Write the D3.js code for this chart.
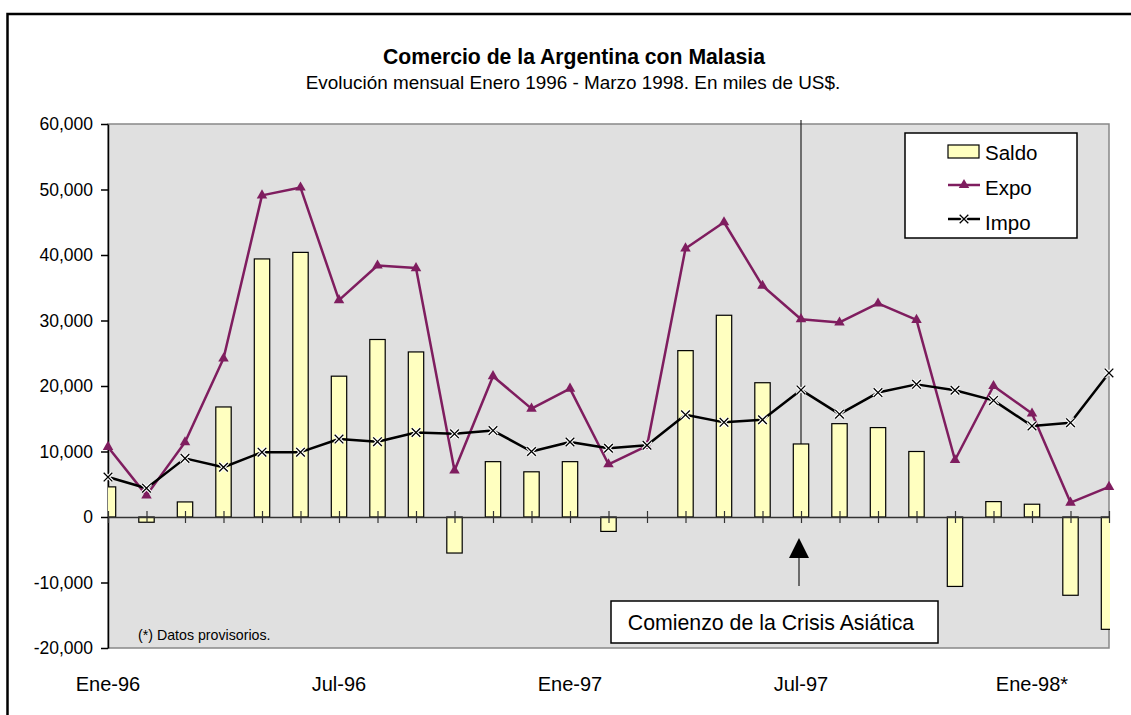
<!DOCTYPE html>
<html>
<head>
<meta charset="utf-8">
<script src="https://cdn.jsdelivr.net/npm/d3@7"></script>
<style>
  body { margin: 0; background: #fff; }
  svg text { font-family: "Liberation Sans", Arial, sans-serif; fill: #000; }
</style>
</head>
<body>
<div id="chart"></div>
<script>
// months Ene-96 .. Mar-98
const months = ["Ene-96","Feb-96","Mar-96","Abr-96","May-96","Jun-96","Jul-96","Ago-96","Sep-96","Oct-96","Nov-96","Dic-96",
  "Ene-97","Feb-97","Mar-97","Abr-97","May-97","Jun-97","Jul-97","Ago-97","Sep-97","Oct-97","Nov-97","Dic-97",
  "Ene-98","Feb-98","Mar-98"];
const tickLabels = ["Ene-96", "Jul-96", "Ene-97", "Jul-97", "Ene-98*"];

const saldo = [4600, -800, 2300, 16800, 39400, 40400, 21500, 27100, 25200, -5500, 8450, 6900,
  8450, -2200, 0, 25400, 30800, 20500, 11150, 14250, 13650, 10000, -10600, 2350,
  1950, -11950, -17150];
const expo = [10700, 3300, 11400, 24200, 49100, 50300, 33100, 38400, 38000, 7100, 21500, 16550,
  19600, 8050, 10850, 41000, 45000, 35300, 30200, 29700, 32600, 30100, 8700, 20000,
  15800, 2200, 4600];
const impo = [6100, 4400, 8950, 7600, 9900, 9900, 11900, 11500, 12900, 12700, 13200, 10000,
  11450, 10500, 10950, 15600, 14450, 14850, 19400, 15700, 19000, 20250, 19350, 17800,
  13900, 14400, 22000];
const yTicks = [-20000, -10000, 0, 10000, 20000, 30000, 40000, 50000, 60000];

(function () {
const W = 1131, H = 715;
const plotL = 108, plotR = 1109, plotT = 124, plotB = 648;
const expoColor = "#7f1d5f";

const svg = d3.select("#chart").append("svg")
  .attr("width", W).attr("height", H);

svg.append("rect").attr("width", W).attr("height", H).attr("fill", "#fff");

// outer frame (top and left only)
svg.append("path")
  .attr("d", `M7.5,${H} V14 H${W}`)
  .attr("fill", "none").attr("stroke", "#000").attr("stroke-width", 2.5);

svg.append("text").attr("x", 574).attr("y", 64)
  .attr("text-anchor", "middle").attr("font-size", 21.2).attr("font-weight", "bold")
  .text("Comercio de la Argentina con Malasia");
svg.append("text").attr("x", 573).attr("y", 89)
  .attr("text-anchor", "middle").attr("font-size", 18.9)
  .text("Evolución mensual Enero 1996 - Marzo 1998. En miles de US$.");

const x = d3.scalePoint().domain(months).range([plotL, plotR]);
const y = d3.scaleLinear().domain([-20000, 60000]).range([plotB, plotT]);
const step = x.step();
const barW = step * 0.4;
const fmt = d3.format(",");

// plot area
svg.append("rect")
  .attr("x", plotL).attr("y", plotT).attr("width", plotR - plotL).attr("height", plotB - plotT)
  .attr("fill", "#e0e0e0").attr("stroke", "#888").attr("stroke-width", 1.5);

svg.append("clipPath").attr("id", "plotclip").append("rect")
  .attr("x", plotL).attr("y", plotT - 2).attr("width", plotR - plotL + 1).attr("height", plotB - plotT + 4);

// crisis marker line at Jul-97
const crisisX = x("Jul-97");
svg.append("line")
  .attr("x1", crisisX).attr("x2", crisisX)
  .attr("y1", 120).attr("y2", y(saldo[months.indexOf("Jul-97")]))
  .attr("stroke", "#111").attr("stroke-width", 1.1);

// y axis
const yAxis = svg.append("g")
  .attr("transform", `translate(${plotL},0)`)
  .call(d3.axisLeft(y).tickValues(yTicks)
    .tickFormat(d => fmt(d).replace("\u2212", "-"))
    .tickSize(7).tickSizeOuter(0).tickPadding(8));
yAxis.select(".domain").attr("stroke", "#000").attr("stroke-width", 1.5);
yAxis.selectAll(".tick line").attr("stroke", "#000").attr("stroke-width", 1.5);
yAxis.selectAll("text").attr("font-size", 17.5).attr("font-family", "Liberation Sans, Arial, sans-serif");

// bars
svg.append("g").attr("clip-path", "url(#plotclip)")
  .selectAll("rect").data(saldo).join("rect")
  .attr("x", (d, i) => x(months[i]) - barW / 2)
  .attr("y", d => y(Math.max(0, d)))
  .attr("width", barW)
  .attr("height", d => Math.abs(y(d) - y(0)))
  .attr("fill", "#ffffc0")
  .attr("stroke", "#000").attr("stroke-width", 1.2);

// zero axis with crossing ticks
const zAxis = svg.append("g")
  .attr("transform", `translate(0,${y(0)})`)
  .call(d3.axisBottom(x).tickFormat("").tickSize(6).tickSizeOuter(0));
zAxis.select(".domain").attr("stroke", "#333").attr("stroke-width", 1.5);
zAxis.selectAll(".tick line").attr("y1", -6).attr("stroke", "#333").attr("stroke-width", 1.2);

// bottom category labels
svg.append("g").selectAll("text").data(tickLabels).join("text")
  .attr("x", (d, i) => x(months[i * 6]))
  .attr("y", 691)
  .attr("text-anchor", "middle").attr("font-size", 20)
  .text(d => d);

// Expo line
const line = d3.line().x((d, i) => x(months[i])).y(d => y(d));
svg.append("path").datum(expo)
  .attr("d", line).attr("fill", "none")
  .attr("stroke", expoColor).attr("stroke-width", 2.5).attr("stroke-linejoin", "round");
const tri = d3.symbol().type(d3.symbolTriangle).size(48);
svg.append("g").selectAll("path").data(expo).join("path")
  .attr("transform", (d, i) => `translate(${x(months[i])},${y(d)})`)
  .attr("d", tri).attr("fill", expoColor);

// Impo line
svg.append("path").datum(impo)
  .attr("d", line).attr("fill", "none")
  .attr("stroke", "#000").attr("stroke-width", 2.5).attr("stroke-linejoin", "round");
const cross = d3.symbol().type(d3.symbolX).size(50);
const impoMarks = svg.append("g").selectAll("g").data(impo).join("g")
  .attr("transform", (d, i) => `translate(${x(months[i])},${y(d)})`);
impoMarks.append("path").attr("d", cross).attr("fill", "none").attr("stroke", "#fff").attr("stroke-width", 3.5);
impoMarks.append("path").attr("d", cross).attr("fill", "none").attr("stroke", "#000").attr("stroke-width", 1.3);

// arrow
svg.append("line")
  .attr("x1", crisisX - 2).attr("x2", crisisX - 2).attr("y1", 556).attr("y2", 586)
  .attr("stroke", "#444").attr("stroke-width", 1.5);
svg.append("path")
  .attr("d", `M${crisisX - 2},538 L${crisisX + 8},558 L${crisisX - 12},558 Z`)
  .attr("fill", "#000");

// annotation box
svg.append("rect")
  .attr("x", 611).attr("y", 601).attr("width", 327).attr("height", 42)
  .attr("fill", "#fff").attr("stroke", "#000").attr("stroke-width", 1.5);
svg.append("text").attr("x", 771).attr("y", 630)
  .attr("text-anchor", "middle").attr("font-size", 21.3)
  .text("Comienzo de la Crisis Asiática");

svg.append("text").attr("x", 138).attr("y", 640)
  .attr("font-size", 14.2)
  .text("(*) Datos provisorios.");

// legend
const lg = svg.append("g").attr("transform", "translate(905,133)");
lg.append("rect").attr("width", 172).attr("height", 105)
  .attr("fill", "#fff").attr("stroke", "#000").attr("stroke-width", 1.5);
lg.append("rect").attr("x", 43).attr("y", 12).attr("width", 31).attr("height", 13)
  .attr("fill", "#ffffc0").attr("stroke", "#000").attr("stroke-width", 1.2);
lg.append("line").attr("x1", 43).attr("x2", 75).attr("y1", 52).attr("y2", 52)
  .attr("stroke", expoColor).attr("stroke-width", 2.5);
lg.append("path").attr("transform", "translate(59,52)").attr("d", tri).attr("fill", expoColor);
lg.append("line").attr("x1", 43).attr("x2", 75).attr("y1", 86).attr("y2", 86)
  .attr("stroke", "#000").attr("stroke-width", 2.5);
lg.append("path").attr("transform", "translate(59,86)").attr("d", cross).attr("fill", "none").attr("stroke", "#fff").attr("stroke-width", 3.5);
lg.append("path").attr("transform", "translate(59,86)").attr("d", cross).attr("fill", "none").attr("stroke", "#000").attr("stroke-width", 1.3);
const legendNames = ["Saldo", "Expo", "Impo"];
lg.selectAll("text.lbl").data(legendNames).join("text")
  .attr("class", "lbl")
  .attr("x", 80).attr("y", (d, i) => 27 + i * 35)
  .attr("font-size", 20.5)
  .text(d => d);
})();
</script>
</body>
</html>
